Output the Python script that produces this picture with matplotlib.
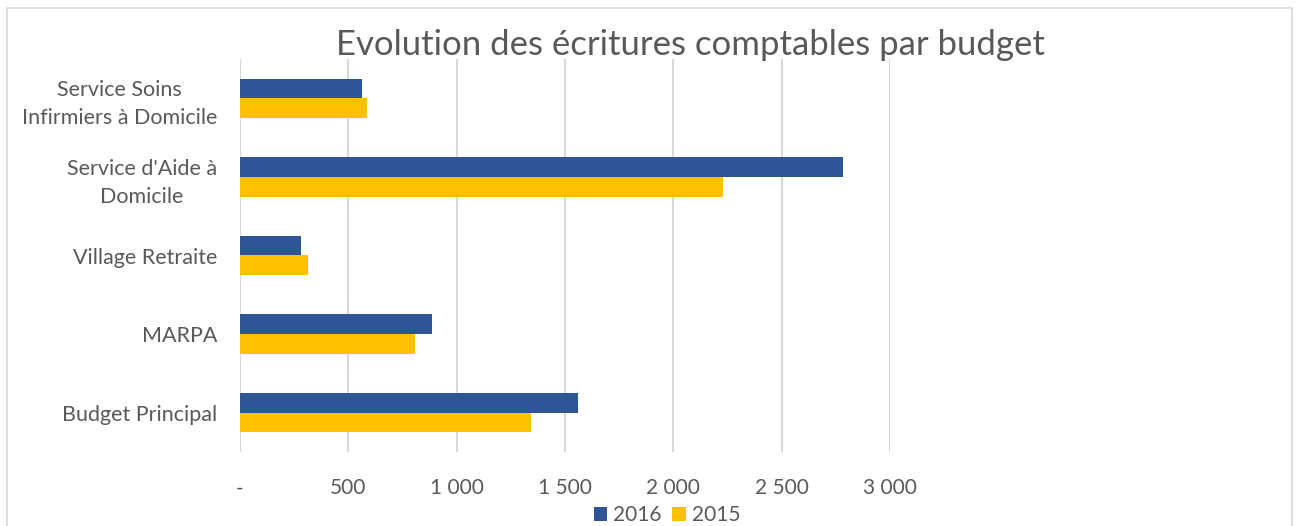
import numpy as np
import matplotlib.pyplot as plt
from matplotlib.patches import Rectangle
from matplotlib.ticker import FuncFormatter

categories = ["Budget Principal", "MARPA", "Village Retraite",
              "Service d'Aide à\nDomicile", "Service Soins\nInfirmiers à Domicile"]
vals_2016 = [1559, 884, 281, 2781, 561]
vals_2015 = [1344, 809, 314, 2228, 586]
ticks = [0, 500, 1000, 1500, 2000, 2500, 3000]

blue = '#2F5597'
gold = '#FFC000'
txt = '#595959'

plt.rcParams['font.family'] = ['Lato', 'DejaVu Sans']

W, H = 1298, 526
fig = plt.figure(figsize=(W / 100, H / 100), dpi=100)

# chart frame
fig.patches.append(Rectangle((7 / W, -0.1), (1292 - 7) / W, 1.1 - 8 / H,
                             transform=fig.transFigure, fill=False,
                             edgecolor='#D9D9D9', linewidth=1.2))

ax = fig.add_axes([240 / W, 1 - 452 / H, (890 - 240) / W, (452 - 59) / H])

y = np.arange(len(categories))
h = 0.25
ax.barh(y + h / 2, vals_2016, height=h, color=blue, label='2016')
ax.barh(y - h / 2, vals_2015, height=h, color=gold, label='2015')

ax.set_xlim(0, 3000)
ax.set_ylim(-0.5, len(categories) - 0.5)
ax.set_xticks(ticks)
ax.xaxis.set_major_formatter(FuncFormatter(
    lambda v, p: '-' if v == 0 else f"{int(v):,}".replace(',', ' ')))
ax.set_yticks(y)
ax.set_yticklabels(categories, ha='right', multialignment='center', linespacing=1.5)
ax.tick_params(axis='y', length=0, pad=16.5, labelsize=15.5, labelcolor=txt)
ax.tick_params(axis='x', length=0, pad=19, labelsize=15, labelcolor=txt)
ax.grid(axis='x', color='#D9D9D9', linewidth=1.5)
ax.set_axisbelow(True)
for s in ax.spines.values():
    s.set_visible(False)

fig.text(690 / W, 1 - 45 / H, 'Evolution des écritures comptables par budget',
         ha='center', va='center', fontsize=25, color=txt)

handles, labels = ax.get_legend_handles_labels()
fig.legend(handles, labels, loc='center', bbox_to_anchor=(667 / W, 1 - 515 / H),
           ncol=2, frameon=False, fontsize=15, labelcolor=txt,
           handlelength=0.65, handleheight=0.65, handletextpad=0.3, columnspacing=0.5)

fig.savefig('out.png', dpi=100)
